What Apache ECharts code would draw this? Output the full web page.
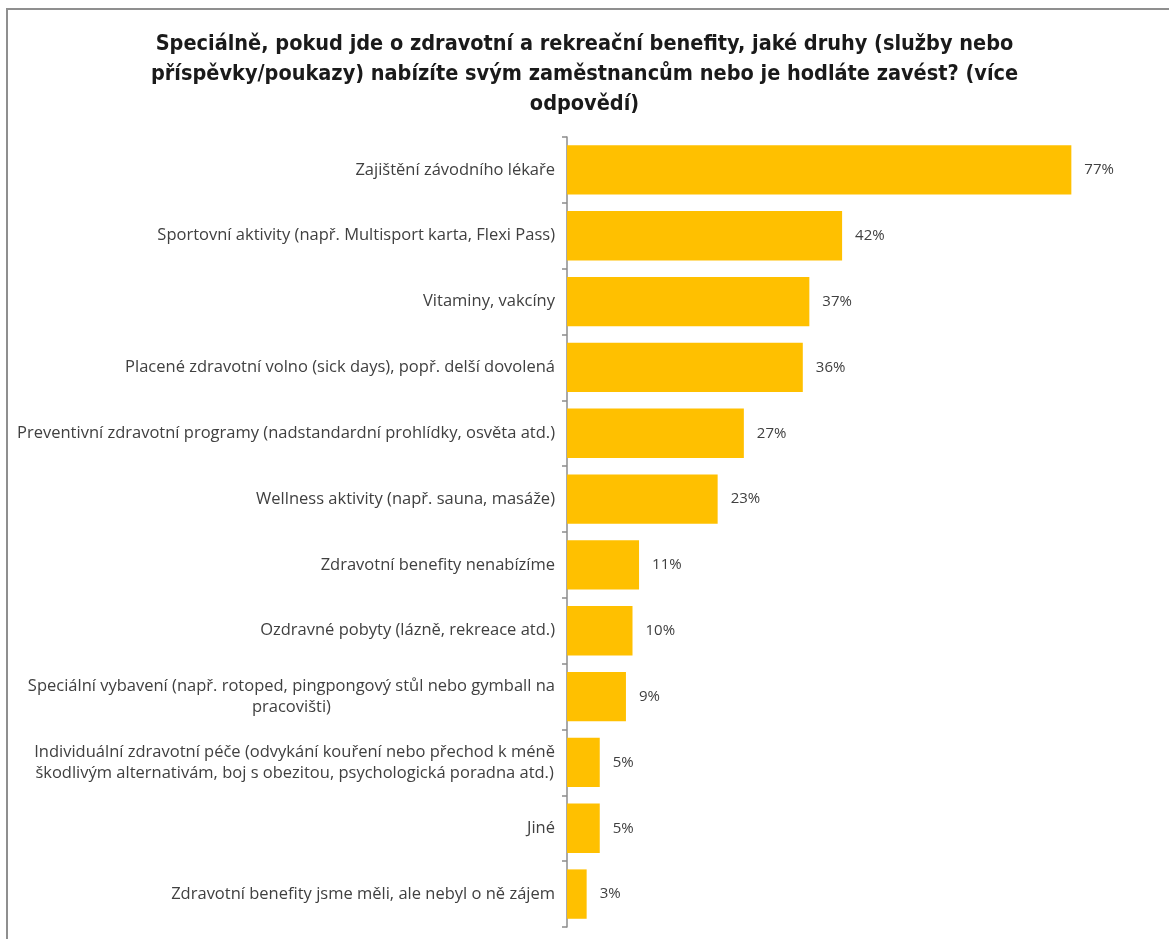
<!DOCTYPE html>
<html>
<head>
<meta charset="utf-8">
<script src="https://cdn.jsdelivr.net/npm/echarts@6/dist/echarts.min.js"></script>
<style>
  html, body { margin: 0; padding: 0; background: #ffffff; }
  #chart { width: 1169px; height: 939px; }
</style>
</head>
<body>
<div id="chart"></div>
<script>
// Survey question (chart heading), one entry per line
const titleLines = [
  'Speciálně, pokud jde o zdravotní a rekreační benefity, jaké druhy (služby nebo',
  'příspěvky/poukazy) nabízíte svým zaměstnancům nebo je hodláte zavést? (více',
  'odpovědí)'
];

// Answer options, top to bottom
const categories = [
  'Zajištění závodního lékaře',
  'Sportovní aktivity (např. Multisport karta, Flexi Pass)',
  'Vitaminy, vakcíny',
  'Placené zdravotní volno (sick days), popř. delší dovolená',
  'Preventivní zdravotní programy (nadstandardní prohlídky, osvěta atd.)',
  'Wellness aktivity (např. sauna, masáže)',
  'Zdravotní benefity nenabízíme',
  'Ozdravné pobyty (lázně, rekreace atd.)',
  'Speciální vybavení (např. rotoped, pingpongový stůl nebo gymball na\npracovišti)',
  'Individuální zdravotní péče (odvykání kouření nebo přechod k méně\nškodlivým alternativám, boj s obezitou, psychologická poradna atd.)',
  'Jiné',
  'Zdravotní benefity jsme měli, ale nebyl o ně zájem'
];

// Share of respondents, percent
const values = [77, 42, 37, 36, 27, 23, 11, 10, 9, 5, 5, 3];

const labelFont = '"Open Sans", "Noto Sans", sans-serif';

const chart = echarts.init(document.getElementById('chart'), null, { renderer: 'canvas' });

chart.setOption({
  backgroundColor: '#ffffff',
  animation: false,
  title: {
    text: titleLines.join('\n'),
    left: 'center',
    top: 24,
    textStyle: {
      fontFamily: '"DejaVu Sans Condensed", "Liberation Sans Narrow", sans-serif',
      fontWeight: 'bold',
      fontSize: 21.5,
      lineHeight: 30,
      color: '#1a1a1a'
    }
  },
  graphic: [{
    type: 'rect',
    silent: true,
    shape: { x: 7, y: 9, width: 1300, height: 1100 },
    style: { fill: 'none', stroke: '#8f8f8f', lineWidth: 2 }
  }],
  grid: {
    left: 567,
    right: 78,
    top: 137,
    bottom: 12,
    containLabel: false
  },
  xAxis: {
    type: 'value',
    min: 0,
    max: 80,
    show: false
  },
  yAxis: {
    type: 'category',
    inverse: true,
    data: categories,
    axisLine: { show: true, lineStyle: { color: '#8c8c8c', width: 1.5 } },
    axisTick: { show: true, inside: false, length: 5, alignWithLabel: false, lineStyle: { color: '#8c8c8c', width: 1.5 } },
    axisLabel: {
      margin: 12,
      color: '#404040',
      fontFamily: labelFont,
      fontSize: 16.5,
      lineHeight: 21,
      formatter: function (v) {
        return v.split('\n').map(function (s) { return '{c|' + s + '}'; }).join('\n');
      },
      rich: {
        c: { align: 'center', color: '#404040', fontFamily: labelFont, fontSize: 16.5, lineHeight: 21 }
      }
    }
  },
  series: [{
    type: 'bar',
    data: values,
    barCategoryGap: '25%',
    itemStyle: { color: '#FFC000' },
    label: {
      show: true,
      position: 'right',
      distance: 13,
      formatter: '{c}%',
      color: '#404040',
      fontFamily: labelFont,
      fontSize: 15
    }
  }]
});
</script>
</body>
</html>
